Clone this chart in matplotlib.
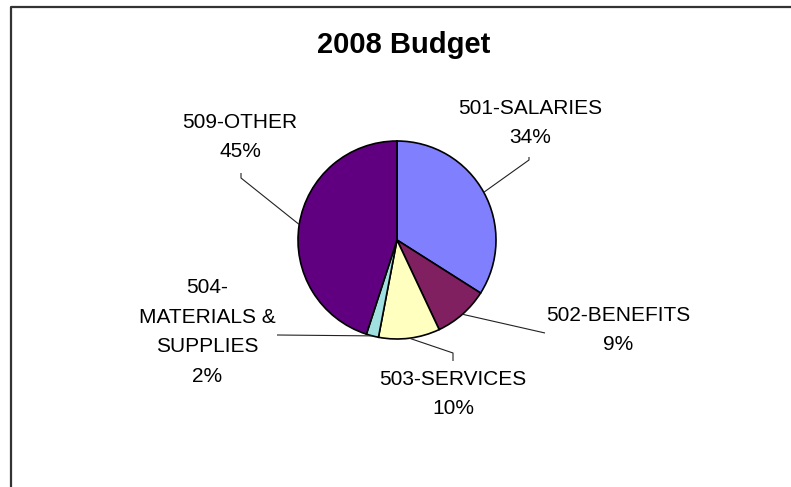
import numpy as np
import matplotlib
matplotlib.use("Agg")
import matplotlib.pyplot as plt

# 2008 budget split by account
accounts = ["501-SALARIES", "502-BENEFITS", "503-SERVICES",
            "504-\nMATERIALS &\nSUPPLIES", "509-OTHER"]
shares = [34, 9, 10, 2, 45]
colors = ["#8080FF", "#802060", "#FFFFC0", "#A0E0E0", "#600080"]

W, H = 791, 487
cx, cy, r = 397, 240, 99

# label centres and where each leader line ends (pixel space, y down)
label_xy = [(530, 123), (618, 330), (453, 394), (207, 332), (240, 137)]
leader_end = [[(529, 160), (529, 157)],
              [(545, 333)],
              [(453, 353), (453, 361)],
              [(277, 335)],
              [(241, 178), (241, 173)]]

fig = plt.figure(figsize=(W / 100, H / 100), dpi=100)
ax = fig.add_axes([0, 0, 1, 1])

wedges, _ = ax.pie(shares, colors=colors, startangle=-90, counterclock=True,
                   center=(cx, cy), radius=r,
                   wedgeprops=dict(edgecolor="black", linewidth=1.2))
ax.set_xlim(0, W)
ax.set_ylim(H, 0)
ax.set_aspect("equal")
ax.axis("off")

for w, name, pct, (lx, ly), ends in zip(wedges, accounts, shares,
                                        label_xy, leader_end):
    mid = np.deg2rad((w.theta1 + w.theta2) / 2)
    px, py = cx + r * np.cos(mid), cy + r * np.sin(mid)
    xs = [px] + [p[0] for p in ends]
    ys = [py] + [p[1] for p in ends]
    ax.plot(xs, ys, color="#222222", linewidth=0.8, solid_capstyle="butt")
    ax.text(lx, ly, f"{name}\n{pct}%", ha="center", va="center",
            fontsize=15, family="Liberation Sans", linespacing=1.72,
            color="black")

ax.text(404, 45, "2008 Budget", ha="center", va="center", fontsize=21,
        fontweight="bold", family="Liberation Sans")

# chart frame, runs off the right and bottom edges
ax.plot([10.5, 10.5, W + 5], [H + 5, 7, 7], color="#333333", linewidth=1.6,
        clip_on=False)

fig.savefig("out.png", dpi=100)
